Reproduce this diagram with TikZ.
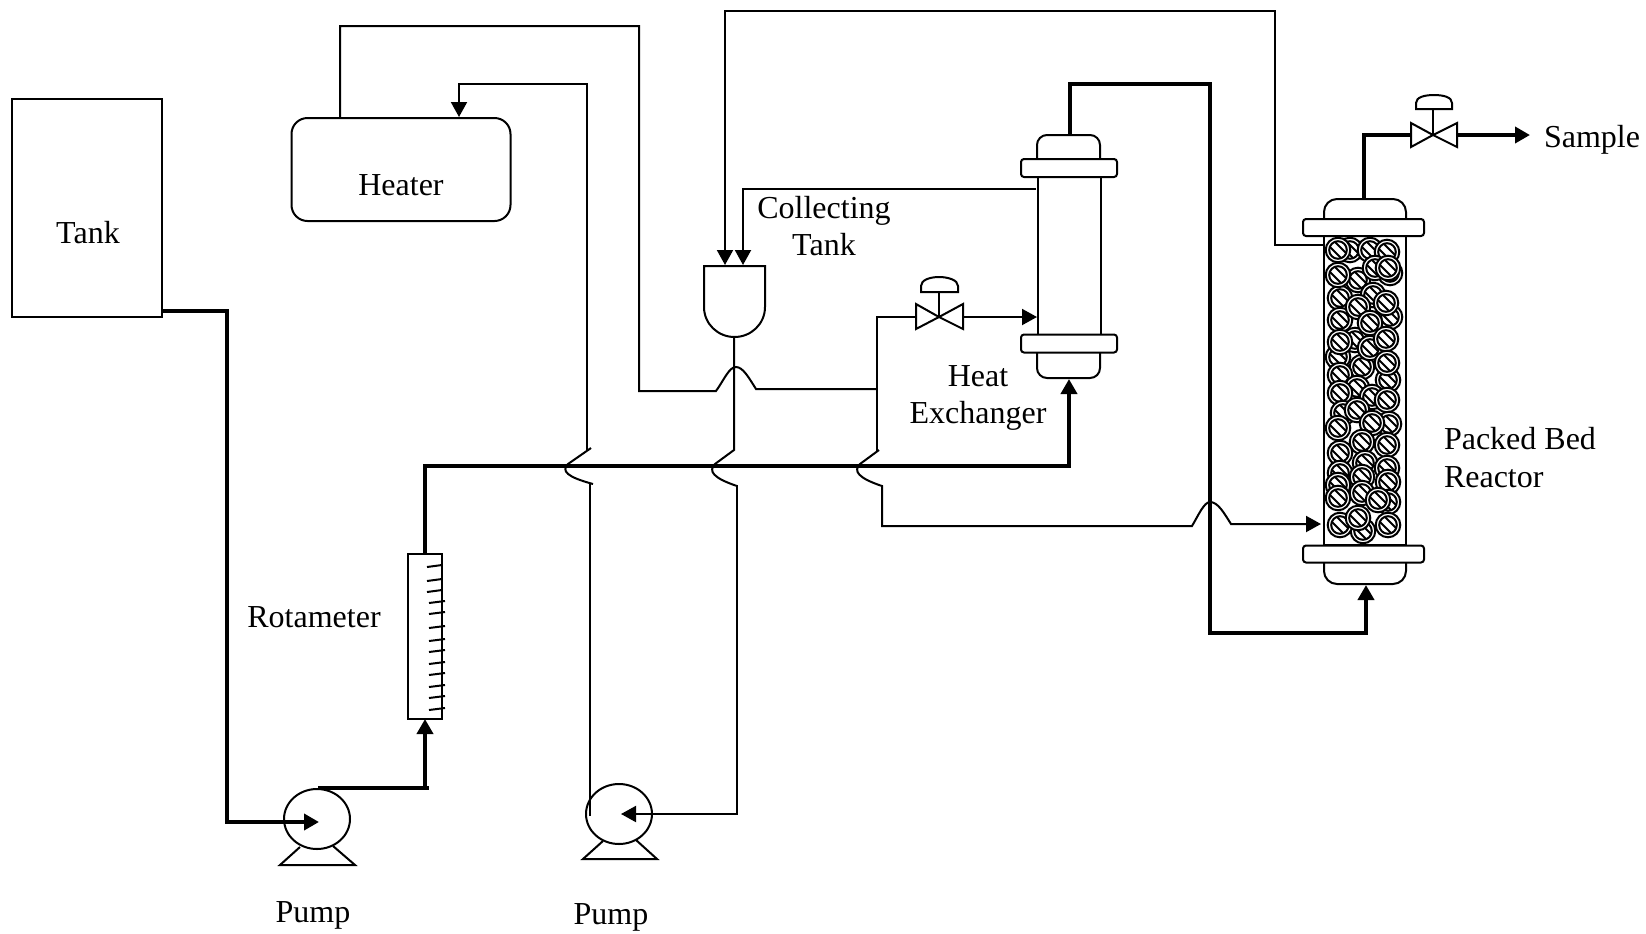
\documentclass[tikz,border=0pt]{standalone}
\usepackage{fontspec}
\setmainfont{Liberation Serif}
\usepackage{tikz}
\usetikzlibrary{arrows.meta, shapes.geometric}

\begin{document}
\begin{tikzpicture}[
	x=0.5pt, y=-0.5pt,
	line width=1pt,
	vessel/.style={draw, rectangle, inner sep=0pt, outer sep=0pt},
	flange/.style={vessel, fill=white, rounded corners=1.5pt, minimum width=48pt, minimum height=9pt},
	pumpbody/.style={draw, ellipse, inner sep=0pt, outer sep=0pt, minimum width=33pt, minimum height=30pt},
	label/.style={inner sep=0pt, font=\fontsize{16}{19}\selectfont},
	pipe/.style={line width=1pt},
	feed/.style={line width=2.3pt},
	tip/.style={-{Triangle[length=7.5pt,width=8pt]}},
	]
	
	%% ── Vessels ─────────────────────────────────────────────
	\useasboundingbox (0,0) rectangle (1646,933);
	\node[vessel, minimum width=75pt, minimum height=109pt] (tank) at (87,208) {};
	\node[vessel, rounded corners=8pt, minimum width=109.5pt, minimum height=51.5pt] (heater) at (401,169.5) {};
	\node[vessel, minimum width=17pt, minimum height=82.5pt] (rota) at (425,636.5) {};
	\node[pumpbody] (pump1) at (317,819) {};
	\node[pumpbody] (pump2) at (619,814) {};
	\node[vessel, minimum width=31.5pt, minimum height=79pt] (exch) at (1069,256) {};
	\node[vessel, minimum width=41pt, minimum height=154.5pt] (bed) at (1365,390.5) {};
	
	%% ── Rotameter scale and pump feet ──────────────────────
	\foreach \ya/\xa/\xb in {567/427/442, 581/427/442, 592/427/442, 603/429/445, 614/429/445, 628/429/445, 641/429/445,
		652/429/445, 664/429/445, 675/429/445, 687/429/445, 698/429/445, 710/429/445}
		\draw (\xa,\ya) -- (\xb,\ya-2);
	\draw (300,847) -- (280,865) -- (355,865) -- (333,846);
	\draw (603,841) -- (583,859) -- (657,859) -- (636,840);
	
	%% ── Packing of the reactor ─────────────────────────────
	\foreach \xa/\ya in {1350/250, 1370/250, 1390/273, 1358/280, 1373/295, 1340/298, 1390/317, 1340/320, 1355/340,
		1338/357, 1362/367, 1388/380, 1338/250, 1387/252, 1375/268, 1388/268, 1338/275, 1358/307, 1386/303, 1370/323,
		1340/342, 1370/348, 1386/339, 1387/363, 1340/375, 1357/388, 1340/393, 1372/397, 1387/400, 1343/413, 1357/410,
		1389/424, 1338/428, 1372/423, 1387/445, 1362/442, 1340/453, 1365/463, 1387/468, 1340/473, 1362/477, 1388/482,
		1338/485, 1388/502, 1338/498, 1362/493, 1378/500, 1363/531, 1340/525, 1388/525, 1358/518}
	{
		\begin{scope}[shift={(\xa,\ya)}]
			\draw[fill=white] (0,0) circle[radius=12.3];
			\draw (0,0) circle[radius=8.8];
			\draw (-3.2,-8.2) -- (8.2,3.2);
			\draw (-8.2,-3.2) -- (3.2,8.2);
		\end{scope}
	}
	
	%% ── Column caps, flanges, collecting tank ──────────────
	\draw[rounded corners=5pt] (1037,159) -- (1037,135) -- (1100,135) -- (1100,159);
	\draw[rounded corners=5pt] (1037,352) -- (1037,378) -- (1100,378) -- (1100,352);
	\node[flange] (exchtop) at (1069,168) {};
	\node[flange] (exchbot) at (1069,343.5) {};
	\draw[rounded corners=6.5pt] (1324,219) -- (1324,199) -- (1406,199) -- (1406,219);
	\draw[rounded corners=6.5pt] (1324,563) -- (1324,584) -- (1406,584) -- (1406,563);
	\node[flange, minimum width=60.5pt, minimum height=8.5pt] (bedtop) at (1363.5,227.5) {};
	\node[flange, minimum width=60.5pt, minimum height=8.5pt] (bedbot) at (1363.5,554) {};
	\draw (704,266) -- (765,266) -- (765,307) .. controls (765,324) and (751,337) .. (734.5,337)
		.. controls (718,337) and (704,324) .. (704,307) -- cycle;
	
	%% ── Valves ─────────────────────────────────────────────
	\draw (916,304) -- (939,317) -- (916,329) -- cycle;
	\draw (963,304) -- (939,317) -- (963,329) -- cycle;
	\draw (939,317) -- (939,292);
	\draw (921,292) -- (921,286) .. controls (921,280) and (930,277) .. (939,277)
		.. controls (948,277) and (958,280) .. (958,286) -- (958,292) -- cycle;
	\draw (1411,123) -- (1433,135) -- (1411,147) -- cycle;
	\draw (1457,123) -- (1433,135) -- (1457,147) -- cycle;
	\draw (1433,135) -- (1433,109);
	\draw (1416,109) -- (1416,103) .. controls (1416,97) and (1425,95) .. (1434,95)
		.. controls (1443,95) and (1452,97) .. (1452,103) -- (1452,109) -- cycle;
	\coordinate (v1in) at (916,317);
	\coordinate (v1out) at (963,317);
	\coordinate (v2in) at (1411,135);
	\coordinate (v2out) at (1457,135);
	\coordinate (sample) at (1530,135);
	
	%% ── Named ends of the connectors ───────────────────────
	\coordinate (tankout) at (162,311);
	\coordinate (pump1in) at (319,822);
	\coordinate (pump1out) at (318,788);
	\coordinate (pump2in) at (621,814);
	\coordinate (heatin) at (459,117);
	\coordinate (heatout) at (340,118);
	\coordinate (coll1) at (725,265);
	\coordinate (coll2) at (743,265);
	\coordinate (collout) at (734,337);
	\coordinate (exchin) at (1037,317);
	\coordinate (exchout) at (1036,189);
	\coordinate (exchfeed) at (1069,379);
	\coordinate (exchvap) at (1070,135);
	\coordinate (bedfeed) at (1366,585);
	\coordinate (bedvap) at (1364,199);
	\coordinate (bedin) at (1321,524);
	\coordinate (bedout) at (1323,245);
	
	%% ── Thin lines ─────────────────────────────────────────
	\draw[pipe, tip] (bedout) -- (1275,245) -- (1275,11) -- (725,11) -- (coll1);
	\draw[pipe, tip] (exchout) -- (743,189) -- (coll2);
	\draw[pipe] (heatout) -- (340,26) -- (639,26) -- (639,391) -- (716,391)
		.. controls (724,380) and (729,367) .. (736,367) .. controls (743,367) and (749,378) .. (756,389) -- (877,389);
	\draw[pipe] (877,451) -- (877,317) -- (v1in);
	\draw[pipe, tip] (v1out) -- (exchin);
	\draw[pipe, tip] (879,450) -- (860,464) .. controls (853,471) and (858,478) .. (882,486) -- (882,526) -- (1192,526)
		.. controls (1198,516) and (1204,502) .. (1210,502) .. controls (1218,502) and (1224,513) .. (1231,524) -- (bedin);
	\draw[pipe] (collout) -- (734,450) -- (715,464) .. controls (708,471) and (713,478) .. (737,486);
	\draw[pipe, tip] (737,485) -- (737,814) -- (pump2in);
	\draw[pipe] (590,816) -- (590,484);
	\draw[pipe] (591,448) -- (568,464) .. controls (561,471) and (567,477) .. (593,484);
	\draw[pipe, tip] (587,451) -- (587,84) -- (459,84) -- (heatin);
	
	%% ── Thick lines ────────────────────────────────────────
	\draw[feed, tip] (tankout) -- (227,311) -- (227,822) -- (pump1in);
	\draw[feed] (pump1out) -- (429,788);
	\draw[feed, tip] (425,788) -- (rota.south);
	\draw[feed, tip] (rota.north) -- (425,466) -- (1069,466) -- (exchfeed);
	\draw[feed, tip] (exchvap) -- (1070,84) -- (1210,84) -- (1210,633) -- (1366,633) -- (bedfeed);
	\draw[feed] (bedvap) -- (1364,135) -- (v2in);
	\draw[feed, tip] (v2out) -- (sample);
	
	%% ── Labels ─────────────────────────────────────────────
	\node[label] (ltank) at (88,233) {Tank};
	\node[label] (lheater) at (401,185) {Heater};
	\node[label] (lrota) at (314,617) {Rotameter};
	\node[label] (lpump1) at (313,915) {Pump};
	\node[label] (lpump2) at (611,917) {Pump};
	\node[label] (lcoll) at (824,211) {Collecting};
	\node[label] (lcolltank) at (824,245) {Tank};
	\node[label] (lheat) at (978,376) {Heat};
	\node[label] (lexch) at (978,416) {Exchanger};
	\node[label, anchor=west] (lpacked) at (1443,439) {Packed Bed};
	\node[label, anchor=west] (lreactor) at (1443,477) {Reactor};
	\node[label, anchor=west] (lsample) at (1543,140) {Sample};
	
\end{tikzpicture}
\end{document}
